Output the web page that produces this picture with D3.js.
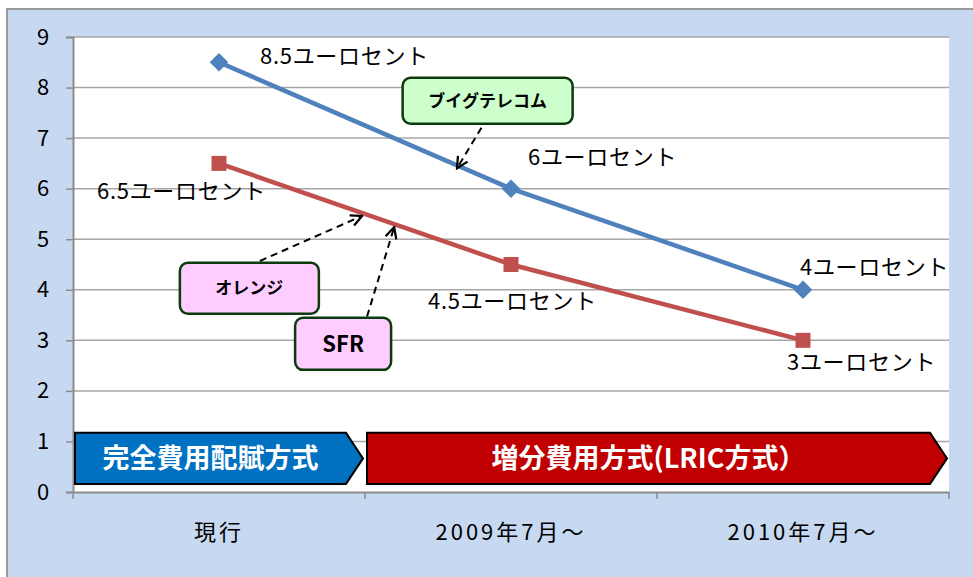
<!DOCTYPE html>
<html>
<head>
<meta charset="utf-8">
<script src="https://cdn.jsdelivr.net/npm/d3@7"></script>
<style>
  body { margin: 0; background: #fff; }
  svg text { font-family: "Noto Sans CJK JP", "Noto Sans", sans-serif; }
</style>
</head>
<body>
<svg id="chart" width="973" height="577"></svg>
<script>
// data
var categories = ["現行", "2009年7月～", "2010年7月～"];
var bouygues = [8.5, 6, 4];
var orange = [6.5, 4.5, 3];
var bouyguesLabels = ["8.5ユーロセント", "6ユーロセント", "4ユーロセント"];
var orangeLabels = ["6.5ユーロセント", "4.5ユーロセント", "3ユーロセント"];
var yTicks = [0, 1, 2, 3, 4, 5, 6, 7, 8, 9];

var svg = d3.select("#chart");
var margin = { top: 37, right: 24, bottom: 85, left: 73 },
    width = 973 - margin.left - margin.right,
    height = 577 - margin.top - margin.bottom;

// outer panel
svg.append("rect")
    .attr("x", 7).attr("y", 9)
    .attr("width", 980).attr("height", 600)
    .attr("fill", "#c6d9f1")
    .attr("stroke", "#9a9a9a")
    .attr("stroke-width", 2);

var g = svg.append("g")
    .attr("transform", "translate(" + margin.left + "," + margin.top + ")");

var x = d3.scaleBand().domain(categories).range([0, width]);
var y = d3.scaleLinear().domain([0, 9]).range([height, 0]);

// fractional position along the category axis (0 = first category centre)
var xAt = function (i) { return x(categories[0]) + x.bandwidth() / 2 + i * x.step(); };

g.append("rect")
    .attr("width", width).attr("height", height)
    .attr("fill", "#fff");

// gridlines
g.selectAll(".grid")
    .data(yTicks.slice(1))
    .enter()
    .append("line")
    .attr("x1", 0).attr("x2", width)
    .attr("y1", function (d) { return y(d); })
    .attr("y2", function (d) { return y(d); })
    .attr("stroke", "#a6a6a6")
    .attr("stroke-width", 1.5);

// y axis
var yAxis = g.append("g")
    .call(d3.axisLeft(y).tickValues(yTicks).tickSize(7).tickPadding(18));
yAxis.select(".domain").attr("stroke", "#8c8c8c").attr("stroke-width", 2);
yAxis.selectAll(".tick line").attr("stroke", "#8c8c8c").attr("stroke-width", 1.5);
yAxis.selectAll(".tick text")
    .style("font-size", "22px").attr("fill", "#000")
    .attr("text-anchor", "middle").attr("dx", "-5px");

// x axis
var xAxis = g.append("g")
    .attr("transform", "translate(0," + height + ")")
    .call(d3.axisBottom(x).tickSize(0).tickPadding(32));
xAxis.select(".domain").attr("stroke", "#8c8c8c").attr("stroke-width", 2);
xAxis.selectAll(".tick text")
    .style("font-size", "22px")
    .style("letter-spacing", "3px")
    .attr("fill", "#000");
g.selectAll(".xtick")
    .data(d3.range(categories.length + 1))
    .enter()
    .append("line")
    .attr("x1", function (d) { return d * x.step(); })
    .attr("x2", function (d) { return d * x.step(); })
    .attr("y1", height).attr("y2", height + 7)
    .attr("stroke", "#8c8c8c")
    .attr("stroke-width", 1.5);

// method chevrons
var chevrons = [
    { from: 0, to: 1, label: "完全費用配賦方式", fill: "#0070c0" },
    { from: 1, to: 3, label: "増分費用方式(LRIC方式）", fill: "#c00000" }
];
var cTop = y(1.17), cBot = y(0.16), cMid = (cTop + cBot) / 2, tip = 17;
chevrons.forEach(function (c) {
    var x0 = c.from * x.step() + 2, x1 = c.to * x.step() - 2;
    g.append("path")
        .attr("d", "M" + x0 + "," + cTop + "L" + (x1 - tip) + "," + cTop + "L" + x1 + "," + cMid +
            "L" + (x1 - tip) + "," + cBot + "L" + x0 + "," + cBot + "Z")
        .attr("fill", c.fill)
        .attr("stroke", "#000")
        .attr("stroke-width", 2);
    g.append("text")
        .attr("x", (x0 + x1 - tip) / 2)
        .attr("y", cMid)
        .attr("dy", "0.35em")
        .attr("text-anchor", "middle")
        .attr("fill", "#fff")
        .style("font-size", "27px")
        .style("font-weight", "bold")
        .text(c.label);
});

// lines
var line = d3.line()
    .x(function (d, i) { return x(categories[i]) + x.bandwidth() / 2; })
    .y(function (d) { return y(d); });

g.append("path").datum(bouygues)
    .attr("d", line).attr("fill", "none")
    .attr("stroke", "#4f81bd").attr("stroke-width", 4.5);
g.append("path").datum(orange)
    .attr("d", line).attr("fill", "none")
    .attr("stroke", "#c0504d").attr("stroke-width", 4.5);

g.selectAll(".diamond")
    .data(bouygues)
    .enter()
    .append("path")
    .attr("d", d3.symbol().type(d3.symbolDiamond2).size(220))
    .attr("transform", function (d, i) {
        return "translate(" + (x(categories[i]) + x.bandwidth() / 2) + "," + y(d) + ")";
    })
    .attr("fill", "#4f81bd");

g.selectAll(".square")
    .data(orange)
    .enter()
    .append("rect")
    .attr("x", function (d, i) { return x(categories[i]) + x.bandwidth() / 2 - 7.5; })
    .attr("y", function (d) { return y(d) - 7.5; })
    .attr("width", 15).attr("height", 15)
    .attr("fill", "#c0504d");

// data labels (offsets from each point)
var bOff = [[41, -6], [17, -31], [-3, -22]];
var oOff = [[-122, 28], [-83, 37], [-16, 22]];
var labelStyle = function (sel) {
    sel.attr("dy", "0.35em")
        .style("font-size", "22px")
        .style("letter-spacing", "0.7px");
};
g.selectAll(".blabel")
    .data(bouygues)
    .enter()
    .append("text")
    .attr("x", function (d, i) { return x(categories[i]) + x.bandwidth() / 2 + bOff[i][0]; })
    .attr("y", function (d, i) { return y(d) + bOff[i][1]; })
    .call(labelStyle)
    .text(function (d, i) { return bouyguesLabels[i]; });
g.selectAll(".olabel")
    .data(orange)
    .enter()
    .append("text")
    .attr("x", function (d, i) { return x(categories[i]) + x.bandwidth() / 2 + oOff[i][0]; })
    .attr("y", function (d, i) { return y(d) + oOff[i][1]; })
    .call(labelStyle)
    .text(function (d, i) { return orangeLabels[i]; });

// callouts
var defs = svg.append("defs");
defs.append("marker")
    .attr("id", "arrow")
    .attr("viewBox", "0 0 10 10")
    .attr("refX", 9).attr("refY", 5)
    .attr("markerWidth", 14).attr("markerHeight", 14)
    .attr("markerUnits", "userSpaceOnUse")
    .attr("orient", "auto")
    .append("path")
    .attr("d", "M1,1L9,5L1,9")
    .attr("fill", "none")
    .attr("stroke", "#000")
    .attr("stroke-width", 1.6);

var callouts = [
    { label: "ブイグテレコム", size: 17, cx: 0.92, cy: 7.74, w: 170, h: 46, fill: "#ccffcc", series: bouygues, at: 0.815, from: [0.92, 7.41] },
    { label: "オレンジ", size: 17, cx: 0.104, cy: 4.03, w: 139, h: 51, fill: "#ffccff", series: orange, at: 0.49, from: [0.14, 4.57] },
    { label: "SFR", size: 22, cx: 0.425, cy: 2.93, w: 96, h: 52, fill: "#ffccff", series: orange, at: 0.6, from: [0.507, 3.47] }
];
callouts.forEach(function (c) {
    var tx = xAt(c.at), ty = y(c.series[0] + (c.series[1] - c.series[0]) * c.at);
    g.append("line")
        .attr("x1", xAt(c.from[0])).attr("y1", y(c.from[1]))
        .attr("x2", tx).attr("y2", ty + 3)
        .attr("stroke", "#000")
        .attr("stroke-width", 2)
        .attr("stroke-dasharray", "7,5")
        .attr("marker-end", "url(#arrow)");
    g.append("rect")
        .attr("x", xAt(c.cx) - c.w / 2).attr("y", y(c.cy) - c.h / 2)
        .attr("width", c.w).attr("height", c.h)
        .attr("rx", 8).attr("ry", 8)
        .attr("fill", c.fill)
        .attr("stroke", "#0c3a0c")
        .attr("stroke-width", 2.5);
    g.append("text")
        .attr("x", xAt(c.cx)).attr("y", y(c.cy))
        .attr("dy", "0.35em")
        .attr("text-anchor", "middle")
        .style("font-size", c.size + "px")
        .style("font-weight", "bold")
        .text(c.label);
});
</script>
</body>
</html>
